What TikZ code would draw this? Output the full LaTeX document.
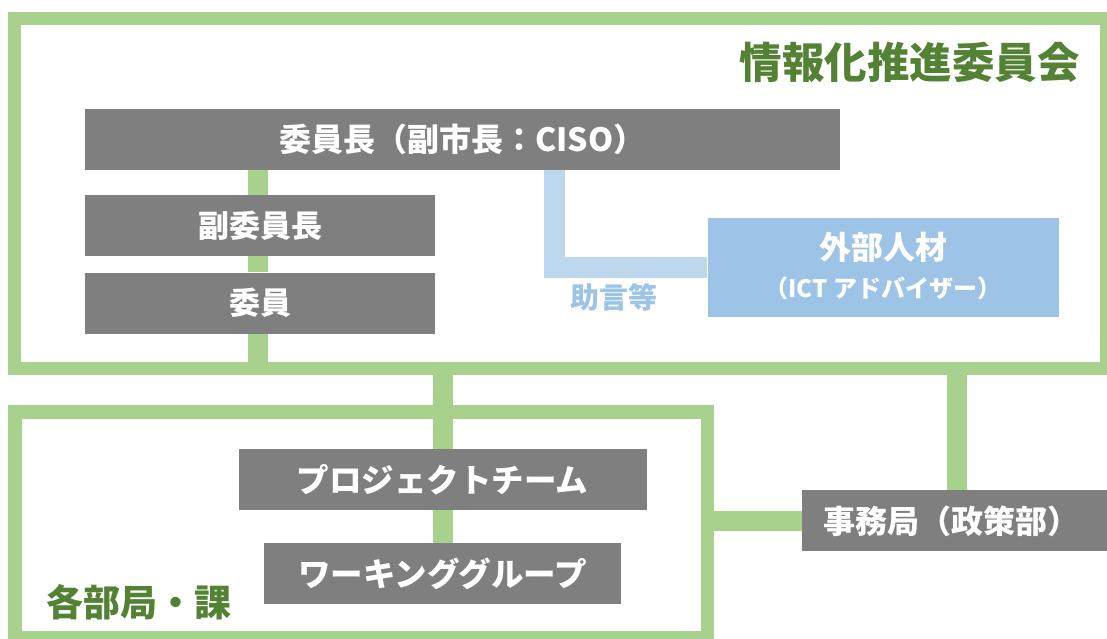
\documentclass[tikz,border=0pt]{standalone}
\usepackage{fontspec}
\setmainfont{Noto Sans CJK JP}
\usetikzlibrary{backgrounds}
\definecolor{boxgray}{HTML}{7F7F7F}
\definecolor{framegreen}{HTML}{A9D18E}
\definecolor{titlegreen}{HTML}{548235}
\definecolor{extblue}{HTML}{9DC3E6}
\definecolor{lineblue}{HTML}{BDD7EE}
\begin{document}
\begin{tikzpicture}[x=1pt,y=-1pt,
  graybox/.style={fill=boxgray,text=white,inner sep=0pt,minimum height=61pt,
    font=\bfseries\fontsize{31}{31}\selectfont},
  frame/.style={draw=framegreen,line width=13.4pt,line join=miter},
  gline/.style={draw=framegreen,line width=20pt},
  bline/.style={draw=lineblue,line width=20.7pt,line join=miter},
  ttl/.style={text=titlegreen,inner sep=0pt,font=\bfseries\fontsize{42.5}{42.5}\selectfont},
  sub/.style={text=titlegreen,inner sep=0pt,font=\bfseries\fontsize{37}{37}\selectfont},
  lbl/.style={inner sep=0pt,text=white,font=\bfseries\fontsize{31}{31}\selectfont}]
\useasboundingbox (0,0) rectangle (1107,639);
\clip (0,0) rectangle (1107,639);

% named reference coordinates
\coordinate (tfb) at (0,368.5);
\coordinate (lfr) at (707.5,0);
\coordinate (gx) at (258,0);
\coordinate (bx) at (554.7,0);

% boxes
\node[graybox,minimum width=755pt,font=\bfseries\fontsize{32}{32}\selectfont] (chair) at (462.5,139.5) {委員長（副市長：CISO）};
\node[graybox,minimum width=350pt] (vice) at (260,225.5) {副委員長};
\node[graybox,minimum width=350pt] (member) at (260,303) {委員};
\node[fill=extblue,inner sep=0pt,minimum width=351pt,minimum height=99pt] (ext) at (883,267.8) {};
\node[graybox,minimum width=408pt,font=\bfseries\fontsize{32.5}{32.5}\selectfont] (pt) at (442.5,479.5) {プロジェクトチーム};
\node[graybox,minimum width=357pt,font=\bfseries\fontsize{32.5}{32.5}\selectfont] (wg) at (442.5,573.5) {ワーキンググループ};
\node[graybox,minimum width=310pt] (sec) at (957,520.5) {};
\node[lbl,font=\bfseries\fontsize{32}{32}\selectfont] (secL) at (951,521) {事務局（政策部）};

% external advisor text
\node[lbl,font=\bfseries\fontsize{32}{32}\selectfont] (extA) at (883,247) {外部人材};
\node[lbl,font=\bfseries\fontsize{24}{24}\selectfont] (extB) at (883,288) {（ICT アドバイザー）};

% labels
\node[inner sep=0pt,text=extblue,font=\bfseries\fontsize{29}{29}\selectfont] (advice) at (614,297) {助言等};
\node[ttl,anchor=east] (title) at (1080,62) {情報化推進委員会};
\node[sub,anchor=west] (dept) at (46,602) {各部局・課};

\begin{pgfonlayer}{background}
  % frames
  \draw[frame] (14.6,18.4) rectangle (1106.2,368.5);
  \draw[frame] (15,412) rectangle (707.5,637.2);
  % green connectors
  \draw[gline] (chair.south -| gx) -- (vice.north -| gx);
  \draw[gline] (vice.south -| gx) -- (member.north -| gx);
  \draw[gline] (member.south -| gx) -- (tfb -| gx);
  \draw[gline] (pt.north) -- (pt.north |- tfb);
  \draw[gline] (pt.south) -- (wg.north);
  \draw[gline] (sec.north) -- (sec.north |- tfb);
  \draw[gline] (sec.west) -- (sec.west -| lfr);
  % blue connector
  \draw[bline] (chair.south -| bx) |- (ext.west);
\end{pgfonlayer}
\end{tikzpicture}
\end{document}
